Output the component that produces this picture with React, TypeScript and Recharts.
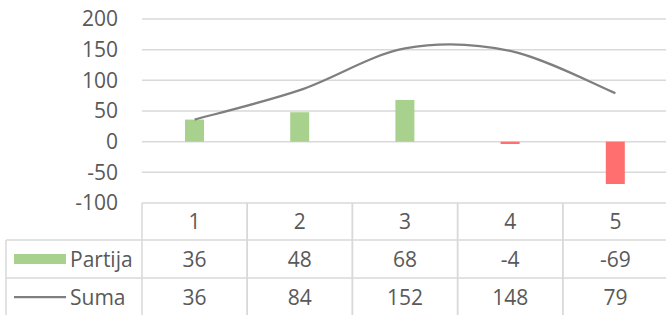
import React from 'react';
import { ComposedChart, Bar, Line, XAxis, YAxis, CartesianGrid, Cell } from 'recharts';

const categories = ['1', '2', '3', '4', '5'];
const partija = [36, 48, 68, -4, -69];
const suma = [36, 84, 152, 148, 79];
const yTicks = [-100, -50, 0, 50, 100, 150, 200];
const seriesNames = ['Partija', 'Suma'];

const data = categories.map((c, i) => ({ cat: c, partija: partija[i], suma: suma[i] }));

const FONT = '"Open Sans", "Noto Sans", sans-serif';
const TEXT = '#595959';
const GRID = '#D9D9D9';
const GREEN = '#A9D18E';
const RED = '#FF6F6F';
const LINE = '#7F7F7F';

const CHART_W = 668;
const CHART_H = 315;
const Y_AXIS_W = 142;
const PLOT_LEFT = Y_AXIS_W;
const BAND = (CHART_W - PLOT_LEFT) / categories.length;

// Catmull-Rom (cardinal, tension 0) curve, like Excel's smoothed line
function smoothCurve(context: any) {
  let pts: number[][] = [];
  return {
    areaStart() {},
    areaEnd() {},
    lineStart() {
      pts = [];
    },
    point(x: number, y: number) {
      pts.push([+x, +y]);
    },
    lineEnd() {
      const n = pts.length;
      if (!n) return;
      context.moveTo(pts[0][0], pts[0][1]);
      for (let i = 0; i < n - 1; i++) {
        const p0 = pts[Math.max(i - 1, 0)];
        const p1 = pts[i];
        const p2 = pts[i + 1];
        const p3 = pts[Math.min(i + 2, n - 1)];
        context.bezierCurveTo(
          p1[0] + (p2[0] - p0[0]) / 6,
          p1[1] + (p2[1] - p0[1]) / 6,
          p2[0] - (p3[0] - p1[0]) / 6,
          p2[1] - (p3[1] - p1[1]) / 6,
          p2[0],
          p2[1]
        );
      }
    },
  };
}

const textProps = {
  fontFamily: FONT,
  fontSize: 21,
  fill: TEXT,
};

const TableTick = (props: any) => {
  const { x, y, payload } = props;
  const i = props.index ?? payload.index;
  const left = x - BAND / 2;
  const right = x + BAND / 2;
  const r1 = y + 37;
  const r2 = y + 75;
  const bottom = y + 120;
  const line = { stroke: GRID, strokeWidth: 1.5 };
  return (
    <g>
      <line x1={left} y1={y} x2={left} y2={bottom} {...line} />
      <line x1={right} y1={y} x2={right} y2={bottom} {...line} />
      <line x1={left} y1={r1} x2={right} y2={r1} {...line} />
      <line x1={left} y1={r2} x2={right} y2={r2} {...line} />
      <text x={x} y={y + 18.5} dy="0.36em" textAnchor="middle" {...textProps}>
        {payload.value}
      </text>
      <text x={x} y={y + 56} dy="0.36em" textAnchor="middle" {...textProps}>
        {partija[i]}
      </text>
      <text x={x} y={y + 94} dy="0.36em" textAnchor="middle" {...textProps}>
        {suma[i]}
      </text>
      {i === 0 && (
        <g>
          <line x1={6} y1={r1} x2={6} y2={bottom} {...line} />
          <line x1={6} y1={r1} x2={left} y2={r1} {...line} />
          <line x1={6} y1={r2} x2={left} y2={r2} {...line} />
          <rect x={14} y={r1 + 14} width={52} height={10} fill={GREEN} />
          <line x1={14} y1={y + 94} x2={66} y2={y + 94} stroke={LINE} strokeWidth={2.25} />
          <text x={70} y={y + 56} dy="0.36em" textAnchor="start" {...textProps}>
            {seriesNames[0]}
          </text>
          <text x={70} y={y + 94} dy="0.36em" textAnchor="start" {...textProps}>
            {seriesNames[1]}
          </text>
        </g>
      )}
    </g>
  );
};

export default function App() {
  return (
    <div style={{ position: 'absolute', left: 0, top: 0, width: 666, height: 315, overflow: 'hidden', background: '#fff' }}>
      <ComposedChart
        width={CHART_W}
        height={CHART_H}
        data={data}
        margin={{ top: 19, right: 0, bottom: 0, left: 0 }}
        barCategoryGap={0}
      >
        <CartesianGrid vertical={false} stroke={GRID} strokeWidth={1.5} />
        <XAxis
          dataKey="cat"
          height={112}
          axisLine={false}
          tickLine={false}
          tickSize={0}
          tickMargin={0}
          interval={0}
          tick={<TableTick />}
        />
        <YAxis
          width={Y_AXIS_W}
          domain={[-100, 200]}
          ticks={yTicks}
          axisLine={false}
          tickLine={false}
          tickSize={0}
          tickMargin={24}
          tick={{ ...textProps }}
          interval={0}
        />
        <Bar dataKey="partija" barSize={19} isAnimationActive={false}>
          {data.map((d, i) => (
            <Cell key={i} fill={d.partija >= 0 ? GREEN : RED} />
          ))}
        </Bar>
        <Line
          dataKey="suma"
          type={smoothCurve as any}
          stroke={LINE}
          strokeWidth={2.25}
          dot={false}
          activeDot={false}
          isAnimationActive={false}
        />
      </ComposedChart>
    </div>
  );
}
